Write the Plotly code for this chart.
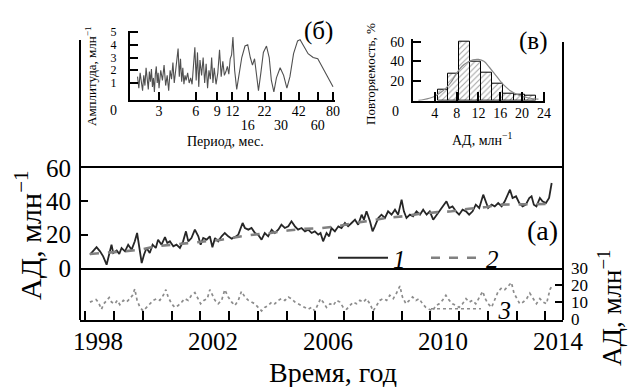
import plotly.graph_objects as go

# ---------------- data ----------------
t1 = [1997.72, 1997.83, 1997.95, 1998.07, 1998.18, 1998.30, 1998.39, 1998.47, 1998.53, 1998.65,
      1998.74, 1998.82, 1998.94, 1999.05, 1999.17, 1999.28, 1999.36, 1999.43, 1999.52, 1999.60,
      1999.69, 1999.80, 1999.90, 2000.01, 2000.09, 2000.21, 2000.33, 2000.41, 2000.50, 2000.62,
      2000.73, 2000.85, 2000.96, 2001.06, 2001.14, 2001.25, 2001.37, 2001.49, 2001.57, 2001.66,
      2001.78, 2001.89, 2001.98, 2002.07, 2002.18, 2002.30, 2002.41, 2002.53, 2002.65, 2002.76,
      2002.88, 2003.03, 2003.11, 2003.23, 2003.34, 2003.46, 2003.57, 2003.69, 2003.80, 2003.92,
      2004.04, 2004.15, 2004.27, 2004.38, 2004.50, 2004.62, 2004.73, 2004.85, 2004.96, 2005.08,
      2005.20, 2005.31, 2005.43, 2005.54, 2005.66, 2005.74, 2005.83, 2005.95, 2006.04, 2006.12,
      2006.24, 2006.36, 2006.47, 2006.59, 2006.70, 2006.82, 2006.94, 2007.05, 2007.17, 2007.25,
      2007.34, 2007.46, 2007.55, 2007.63, 2007.75, 2007.86, 2007.98, 2008.09, 2008.21, 2008.33,
      2008.44, 2008.56, 2008.64, 2008.73, 2008.85, 2008.96, 2009.08, 2009.20, 2009.31, 2009.43,
      2009.54, 2009.66, 2009.78, 2009.89, 2010.01, 2010.12, 2010.22, 2010.33, 2010.45, 2010.56,
      2010.68, 2010.80, 2010.91, 2011.03, 2011.14, 2011.26, 2011.40, 2011.49, 2011.57, 2011.69,
      2011.80, 2011.92, 2012.04, 2012.15, 2012.27, 2012.33, 2012.42, 2012.54, 2012.65, 2012.77,
      2012.88, 2013.00, 2013.08, 2013.16, 2013.25, 2013.37, 2013.46, 2013.58, 2013.69, 2013.78]
v1 = [8, 10, 12.5, 10, 7, 2, 8, 14, 9, 10.5,
      8.5, 12, 10, 14, 11, 16, 21, 12, 3, 8,
      12, 9, 14, 12, 17, 14, 18.5, 15, 16, 13,
      14, 12, 16, 22, 16, 18, 23, 19, 14, 18,
      17, 19, 12.5, 18, 16, 19, 21, 19, 17.6, 18.5,
      20, 27, 24, 23, 24, 21, 20, 17, 21, 19,
      23, 21, 23, 26, 24, 25, 28, 25, 23, 24,
      22, 23, 21, 22, 20, 21, 16, 21, 19, 24,
      22, 25, 24, 27, 25, 27, 29, 26, 32, 29,
      34, 28, 22, 25, 30, 32, 30, 34, 32, 35,
      32, 41, 34, 30, 32, 31, 34, 32, 35, 32,
      34, 29, 32, 34, 37, 40, 36, 37, 34, 32,
      35, 34, 32, 34, 38, 36, 44, 39, 36, 38,
      37, 39, 37, 40, 45, 47, 42, 43, 39, 37,
      38, 42, 43, 38, 37, 42, 40, 39, 42, 51]

t2 = [1997.72, 1998.30, 1998.90, 1999.50, 2000.00, 2000.60, 2001.20, 2001.80, 2002.30, 2002.80,
      2003.40, 2004.00, 2004.60, 2005.20, 2005.80, 2006.30, 2006.90, 2007.50, 2008.00, 2008.60,
      2009.20, 2009.80, 2010.30, 2010.90, 2011.50, 2012.00, 2012.60, 2013.20, 2013.78]
v2 = [8.4, 9, 10, 11, 13, 14, 15, 16, 17, 18.5,
      20, 21, 22.5, 23.5, 24, 25, 27, 28.5, 30, 31,
      32.5, 33.5, 34, 35.5, 36.6, 38, 38.2, 38.4, 38.5]

t3 = [1997.72, 1997.83, 1997.93, 1998.01, 1998.12, 1998.20, 1998.30, 1998.39, 1998.47, 1998.59,
      1998.67, 1998.76, 1998.88, 1998.99, 1999.11, 1999.20, 1999.28, 1999.36, 1999.46, 1999.57,
      1999.69, 1999.80, 1999.92, 2000.04, 2000.15, 2000.27, 2000.36, 2000.44, 2000.56, 2000.67,
      2000.79, 2000.91, 2001.02, 2001.14, 2001.25, 2001.37, 2001.49, 2001.57, 2001.68, 2001.80,
      2001.89, 2001.99, 2002.07, 2002.18, 2002.30, 2002.41, 2002.53, 2002.65, 2002.76, 2002.88,
      2002.99, 2003.11, 2003.23, 2003.34, 2003.46, 2003.57, 2003.69, 2003.80, 2003.92, 2004.04,
      2004.15, 2004.27, 2004.38, 2004.50, 2004.62, 2004.73, 2004.85, 2004.96, 2005.08, 2005.20,
      2005.31, 2005.43, 2005.54, 2005.66, 2005.74, 2005.83, 2005.95, 2006.07, 2006.18, 2006.30,
      2006.41, 2006.53, 2006.65, 2006.76, 2006.88, 2006.99, 2007.11, 2007.23, 2007.34, 2007.46,
      2007.57, 2007.69, 2007.80, 2007.92, 2008.04, 2008.15, 2008.27, 2008.38, 2008.50, 2008.59,
      2008.71, 2008.83, 2008.94, 2009.06, 2009.17, 2009.29, 2009.40, 2009.52, 2009.64, 2009.75,
      2009.87, 2009.98, 2010.10, 2010.22, 2010.33, 2010.45, 2010.56, 2010.68, 2010.80, 2010.91,
      2011.03, 2011.14, 2011.26, 2011.38, 2011.47, 2011.57, 2011.69, 2011.80, 2011.92, 2012.04,
      2012.15, 2012.27, 2012.38, 2012.47, 2012.56, 2012.67, 2012.79, 2012.91, 2013.02, 2013.14,
      2013.25, 2013.37, 2013.49, 2013.60, 2013.72, 2013.78]
v3 = [10, 11, 11.5, 10, 5.8, 9, 11, 12.7, 10, 9,
      11, 8.5, 11, 10, 12, 14, 17.7, 11, 6.9, 4.8,
      6.9, 9, 11, 12, 11, 14, 17.3, 13, 9, 6.9,
      8, 10, 12, 11, 14, 15.6, 12, 9, 11, 12,
      17.3, 14, 11, 9, 11, 17.3, 13, 10, 8, 11,
      16.3, 13, 11, 10, 9, 6.9, 4.8, 6.9, 8, 10,
      9, 11, 12, 11, 13, 12, 10, 9, 8, 6.9,
      5.8, 6.9, 4.8, 9, 12, 10, 6.9, 9, 8, 11,
      10, 6.9, 5.8, 8, 10, 9, 11, 10, 12, 9,
      4.8, 8, 11, 12, 11, 14, 12, 15.2, 19.4, 13,
      9, 11, 13, 11, 12, 9, 6.9, 5.8, 4.8, 8,
      9, 11, 14, 11, 9, 8, 6.9, 9, 12, 10,
      11, 9, 13, 16.3, 12, 9, 6.9, 11, 16.3, 18.3,
      17.3, 19.4, 21.5, 15.2, 12, 9, 10, 12, 15.2, 12,
      9, 12, 10, 9, 17.3, 19.4]

period = [2.0, 2.05, 2.1, 2.15, 2.2, 2.25, 2.3, 2.35, 2.4, 2.45,
          2.5, 2.55, 2.6, 2.65, 2.7, 2.75, 2.8, 2.85, 2.9, 2.95,
          3.0, 3.1, 3.2, 3.3, 3.4, 3.5, 3.6, 3.7, 3.8, 3.9,
          4.0, 4.1, 4.2, 4.3, 4.4, 4.5, 4.6, 4.7, 4.8, 4.9,
          5.0, 5.15, 5.3, 5.45, 5.6, 5.75, 5.9, 6.05, 6.2, 6.35,
          6.5, 6.7, 6.9, 7.1, 7.3, 7.5, 7.7, 7.9, 8.1, 8.3,
          8.5, 8.8, 9.1, 9.4, 9.7, 10.0, 10.3, 10.6, 10.9, 11.2,
          11.5, 11.8, 12.1, 12.5, 13.0, 13.5, 14.3, 15.2, 16.0, 16.8,
          17.5, 18.2, 18.9, 19.6, 20.5, 21.5, 22.8, 24.0, 25.0, 26.2,
          27.5, 29.5, 31.5, 33.5, 35.5, 38.0, 41.0, 43.0, 46.0, 50.0,
          55.0, 60.0, 65.0, 72.0, 80.0]
amplitude = [1.5, 0.6, 1.8, 0.9, 0.4, 1.6, 0.8, 2.2, 1.0, 0.5,
             1.9, 1.1, 2.1, 0.7, 1.4, 0.3, 1.7, 2.3, 1.0, 1.8,
             0.6, 2.0, 1.2, 2.4, 0.8, 1.6, 0.4, 2.0, 1.3, 2.6,
             1.0, 1.8, 2.6, 3.7, 1.5, 2.9, 1.1, 2.2, 0.9, 1.6,
             1.2, 1.8, 1.0, 1.4, 0.9, 2.4, 3.8, 1.2, 3.4, 0.7,
             2.8, 1.6, 3.0, 1.0, 2.5, 0.6, 2.0, 1.3, 3.0, 1.0,
             2.2, 0.9, 1.8, 3.6, 1.5, 2.7, 1.6, 1.9, 2.3, 1.7,
             2.9, 3.2, 4.6, 2.0, 0.5, 1.5, 3.0, 3.9, 4.0, 3.0,
             2.4, 2.9, 1.6, 0.4, 1.8, 3.4, 3.9, 3.0, 1.2, 0.3,
             1.4, 2.2, 1.6, 0.6, 1.5, 3.3, 4.3, 4.4, 3.9, 3.3,
             3.0, 2.9, 2.3, 1.5, 0.7]
period_ticks_top = [3, 6, 9, 12, 22, 42, 80]
period_ticks_low = [16, 30, 60]

bin_centers = [5.5, 7.5, 9.5, 11.5, 13.5, 15.5, 17.5, 19.5, 21.5]
freq = [11, 27, 60, 40, 28, 17, 7, 6, 5]
fit_x = [1, 2, 3, 4, 5, 6, 7, 8, 9, 10, 11, 12, 13, 14, 15, 16, 17, 18, 19, 20, 21, 22, 23]
fit_y = [0.3, 1.2, 2.5, 4.5, 8, 12.5, 19, 28, 35, 39, 41.5, 42, 40, 34, 27, 20, 14, 9.5, 6.5, 4.5, 3, 2, 1.5]

year_labels = [1998, 2002, 2006, 2010, 2014]

# ---------------- layout helpers ----------------
W, H = 628, 387
ML, MR, MT, MB = 80, 65, 0, 67
PW, PH = W - ML - MR, H - MT - MB


def fx(p):
    return (p - ML) / PW


def fy(p):
    return (PH - (p - MT)) / PH


SERIF = "Liberation Serif"
TICK = 25
TITLE = 28
SMALL = 14


def F(size, **kw):
    return dict(family=SERIF, color="black", size=size, **kw)


fig = go.Figure()

fig.add_trace(go.Scatter(x=t1, y=v1, mode="lines", name="1",
                         line=dict(color="#262626", width=1.8), xaxis="x", yaxis="y", legend="legend"))
fig.add_trace(go.Scatter(x=t2, y=v2, mode="lines", name="2",
                         line=dict(color="#808080", width=2.6, dash="dash"), xaxis="x", yaxis="y", legend="legend"))
fig.add_trace(go.Scatter(x=t3, y=v3, mode="lines", name="\u00a0\u00a03",
                         line=dict(color="#8c8c8c", width=1.7, dash="dot"), xaxis="x2", yaxis="y2", legend="legend2"))
fig.add_trace(go.Scatter(x=period, y=amplitude, mode="lines", showlegend=False,
                         line=dict(color="#505050", width=1.1), xaxis="x3", yaxis="y3"))
fig.add_trace(go.Bar(x=bin_centers, y=freq, width=2, showlegend=False,
                     marker=dict(color="white", line=dict(color="black", width=1),
                                 pattern=dict(shape="/", fgcolor="#444444", size=4, solidity=0.25)),
                     xaxis="x4", yaxis="y4"))
fig.add_trace(go.Scatter(x=fit_x, y=fit_y, mode="lines", showlegend=False, line_shape="spline",
                         line=dict(color="#8a8a8a", width=1.2), xaxis="x4", yaxis="y4"))
fig.add_trace(go.Scatter(x=[period[0]], y=[amplitude[0]], mode="markers", showlegend=False,
                         marker=dict(opacity=0), hoverinfo="skip", xaxis="x5", yaxis="y3"))

XR = [1997.374, 2014.174]
PR = [0.2393, 1.9194]
axis_common = dict(showgrid=False, zeroline=False, linecolor="black", tickcolor="black")

fig.update_layout(
    width=W, height=H,
    margin=dict(l=ML, r=MR, t=MT, b=MB, autoexpand=False),
    paper_bgcolor="white", plot_bgcolor="rgba(0,0,0,0)",
    font=F(TICK),
    bargap=0,
    xaxis=dict(domain=[0, 1], range=XR, anchor="y", showline=True, mirror=True, linewidth=2,
               ticks="", showticklabels=False, **axis_common),
    yaxis=dict(domain=[fy(268), fy(168)], range=[0, 60], anchor="x", tickvals=[0, 20, 40, 60],
               ticks="inside", ticklen=8, tickwidth=2, showline=False,
               tickfont=F(TICK), ticklabelstandoff=8, **axis_common),
    xaxis2=dict(domain=[0, 1], range=XR, anchor="y2", showline=True, mirror=False, linewidth=2,
                tickvals=year_labels, ticktext=[str(y) for y in year_labels], ticks="",
                minor=dict(ticks="inside", ticklen=9, tickwidth=2, tickcolor="black",
                           tickmode="linear", tick0=1997.56, dtick=1, showgrid=False),
                tickfont=F(TICK), ticklabelstandoff=-2, **axis_common),
    yaxis2=dict(domain=[0, fy(268)], range=[-0.5, 30], anchor="x2", side="right",
                tickvals=[0, 10, 20, 30], ticks="inside", ticklen=8, tickwidth=2, showline=False,
                tickfont=F(17), ticklabelstandoff=7, **axis_common),
    xaxis3=dict(domain=[fx(130), fx(335)], type="log", range=PR, anchor="y3",
                showline=True, linewidth=2, tickvals=period_ticks_top + period_ticks_low,
                ticktext=[str(p) for p in period_ticks_top] + [""] * len(period_ticks_low),
                ticks="inside", ticklen=8, tickwidth=2, tickfont=F(SMALL),
                ticklabelstandoff=-3, **axis_common),
    xaxis5=dict(domain=[fx(130), fx(335)], type="log", range=PR, anchor="y3", overlaying="x3",
                showline=False, tickvals=period_ticks_low, ticks="",
                tickfont=F(SMALL), ticklabelstandoff=15, **axis_common),
    yaxis3=dict(domain=[fy(100), fy(30.7)], range=[-0.33, 5.1], anchor="x3", showline=True,
                linewidth=2, tickvals=[1, 2, 3, 4, 5], ticks="inside", ticklen=8, tickwidth=2,
                tickfont=F(12), ticklabelstandoff=9, **axis_common),
    xaxis4=dict(domain=[fx(413), fx(545)], range=[0, 24.2], anchor="y4", showline=True, linewidth=2,
                tickvals=[4, 8, 12, 16, 20, 24], ticks="inside", ticklen=9, tickwidth=2,
                tickfont=F(SMALL), ticklabelstandoff=-2, **axis_common),
    yaxis4=dict(domain=[fy(100.7), fy(38.7)], range=[0, 63], anchor="x4", showline=True, linewidth=2,
                tickvals=[20, 40, 60], ticks="inside", ticklen=8, tickwidth=2,
                tickfont=F(SMALL), ticklabelstandoff=4, **axis_common),
    legend=dict(orientation="h", x=fx(333), y=fy(258), xanchor="left", yanchor="middle",
                bgcolor="rgba(0,0,0,0)", font=F(TICK, style="italic"),
                itemwidth=50, entrywidth=28, entrywidthmode="pixels", tracegroupgap=0),
    legend2=dict(orientation="h", x=fx(426), y=fy(309), xanchor="left", yanchor="middle",
                 bgcolor="rgba(0,0,0,0)", font=F(TICK, style="italic"),
                 itemwidth=50),
    shapes=[
        dict(type="line", xref="paper", yref="paper", x0=0, x1=0, y0=0, y1=fy(40),
             line=dict(color="black", width=2)),
        dict(type="line", xref="paper", yref="paper", x0=1, x1=1, y0=0, y1=fy(42),
             line=dict(color="black", width=2)),
    ],
)

ann = [
    dict(text="АД, млн<sup>−1</sup>", x=fx(28), y=fy(236), textangle=-90, font=F(30)),
    dict(text="АД, млн<sup>−1</sup>", x=fx(610), y=fy(308), textangle=-90, font=F(27)),
    dict(text="Время, год", x=fx(333), y=fy(372), font=F(TITLE)),
    dict(text="(а)", x=fx(542), y=fy(230), font=F(TITLE)),
    dict(text="(б)", x=fx(318), y=fy(31), font=F(TICK)),
    dict(text="(в)", x=fx(533), y=fy(41), font=F(TICK)),
    dict(text="0", x=fx(113), y=fy(110), font=F(SMALL)),
    dict(text="0", x=fx(395), y=fy(111), font=F(SMALL)),
    dict(text="Амплитуда, млн<sup>−1</sup>", x=fx(91), y=fy(77), textangle=-90, font=F(13)),
    dict(text="Период, мес.", x=fx(225), y=fy(141), font=F(SMALL)),
    dict(text="Повторяемость, %", x=fx(371), y=fy(74), textangle=-90, font=F(13)),
    dict(text="АД, млн<sup>−1</sup>", x=fx(482), y=fy(139), font=F(SMALL)),
]
for a in ann:
    a.update(xref="paper", yref="paper", showarrow=False, xanchor="center", yanchor="middle")
fig.update_layout(annotations=ann)

fig.write_html("out.html")
